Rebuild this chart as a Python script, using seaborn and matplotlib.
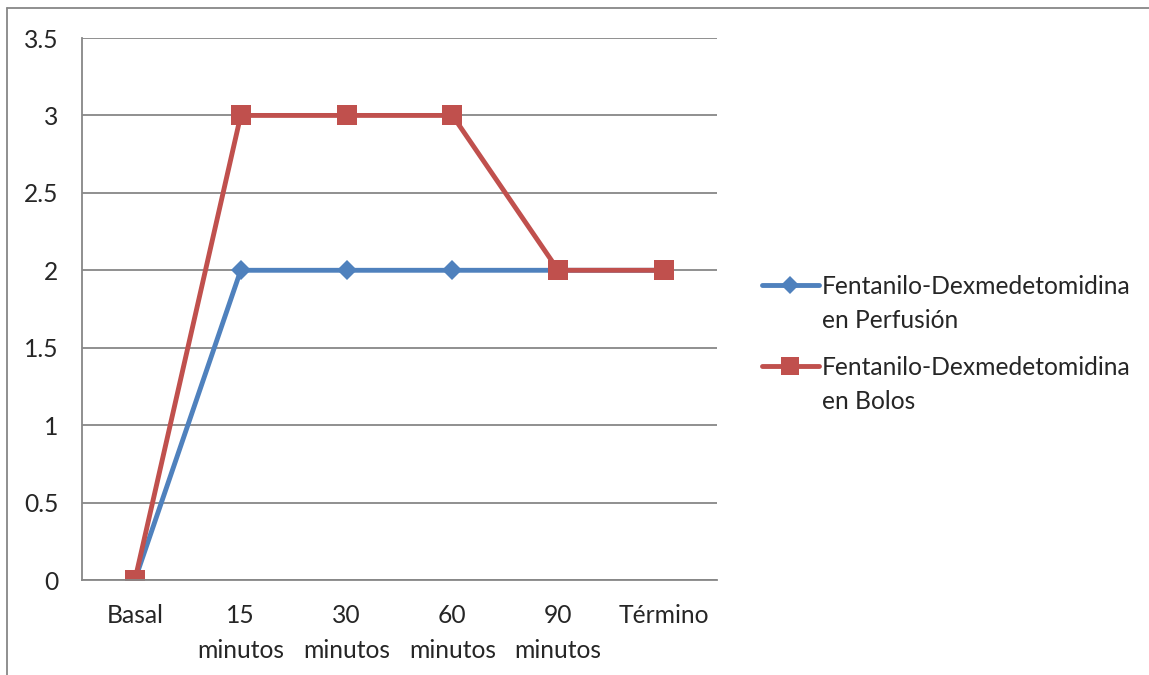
import numpy as np
import pandas as pd
import matplotlib
matplotlib.use('Agg')
import matplotlib.pyplot as plt
import seaborn as sns
from matplotlib.lines import Line2D
from matplotlib.legend_handler import HandlerLine2D

# categories and values
categorias = ['Basal', '15\nminutos', '30\nminutos', '60\nminutos', '90\nminutos', 'Término']
perfusion = [0, 2, 2, 2, 2, 2]
bolos = [0, 3, 3, 3, 2, 2]
serie_perfusion = 'Fentanilo-Dexmedetomidina\nen Perfusión'
serie_bolos = 'Fentanilo-Dexmedetomidina\nen Bolos'

azul = '#4F81BD'
rojo = '#C0504D'
gris = '#878787'
fs = 17.7

df = pd.DataFrame({
    'pos': list(range(len(categorias))) * 2,
    'valor': perfusion + bolos,
    'serie': [serie_perfusion] * len(categorias) + [serie_bolos] * len(categorias),
})

sns.set_style('white')
plt.rcParams['font.family'] = ['Lato', 'DejaVu Sans']

fig = plt.figure(figsize=(11.49, 6.75), dpi=100)
ax = fig.add_axes([82 / 1149, 1 - 580 / 675, (717 - 82) / 1149, (580 - 38) / 675])

sns.lineplot(data=df, x='pos', y='valor', hue='serie', style='serie',
             palette={serie_perfusion: azul, serie_bolos: rojo},
             markers={serie_perfusion: 'D', serie_bolos: 's'},
             dashes=False, linewidth=3.5, markersize=12, markeredgewidth=0,
             legend=False, ax=ax)
# make the marker sizes closer to the reference
for ln in ax.lines:
    if ln.get_marker() == 'D':
        ln.set_markersize(10.5)
    else:
        ln.set_markersize(15)

ax.set_xlim(-0.5, len(categorias) - 0.5)
ax.set_ylim(0, 3.5)
ax.set_yticks(np.arange(0, 3.51, 0.5))
ax.set_yticklabels(['0', '0.5', '1', '1.5', '2', '2.5', '3', '3.5'])
ax.yaxis.grid(True, color=gris, linewidth=1.3)
ax.xaxis.grid(False)

ax.set_xticks(np.arange(-0.5, len(categorias), 1.0))
ax.set_xticklabels([])
ax.set_xticks(range(len(categorias)), minor=True)
ax.set_xticklabels(categorias, minor=True, fontsize=fs, linespacing=1.67)
ax.tick_params(axis='x', which='minor', length=0, pad=17)
ax.tick_params(axis='x', which='major', length=8, width=1.3, color=gris, direction='out')
ax.tick_params(axis='y', length=6, width=1.3, color=gris, direction='out', pad=11, labelsize=fs)
ax.set_xlabel('')
ax.set_ylabel('')

for s in ['top', 'right']:
    ax.spines[s].set_visible(False)
for s in ['left', 'bottom']:
    ax.spines[s].set_color(gris)
    ax.spines[s].set_linewidth(1.3)


class HandlerPrimeraLinea(HandlerLine2D):
    # put the handle next to the first text line, like Excel does
    def create_artists(self, legend, orig_handle, xdescent, ydescent, width, height, fontsize, trans):
        return super().create_artists(legend, orig_handle, xdescent, ydescent - 28,
                                      width, height, fontsize, trans)


handles = [
    Line2D([], [], color=azul, lw=3.5, marker='D', markersize=9.5, markeredgewidth=0),
    Line2D([], [], color=rojo, lw=3.5, marker='s', markersize=12.5, markeredgewidth=0),
]
leg = fig.legend(handles, [serie_perfusion, serie_bolos], loc='center left',
                 bbox_to_anchor=(762 / 1149, 1 - 344 / 675), frameon=False,
                 fontsize=fs, handlelength=2.3, handletextpad=0.15, borderpad=0,
                 borderaxespad=0, labelspacing=1.0,
                 handler_map={Line2D: HandlerPrimeraLinea(numpoints=1)})
for t in leg.get_texts():
    t.set_linespacing(1.58)

# outer chart border (only top and left edges are visible in the crop)
fig.add_artist(Line2D([7 / 1149, 7 / 1149], [0, 1 - 8 / 675], color=gris, lw=1.3,
                      transform=fig.transFigure))
fig.add_artist(Line2D([7 / 1149, 1], [1 - 8 / 675, 1 - 8 / 675], color=gris, lw=1.3,
                      transform=fig.transFigure))

fig.savefig('out.png', dpi=100)
